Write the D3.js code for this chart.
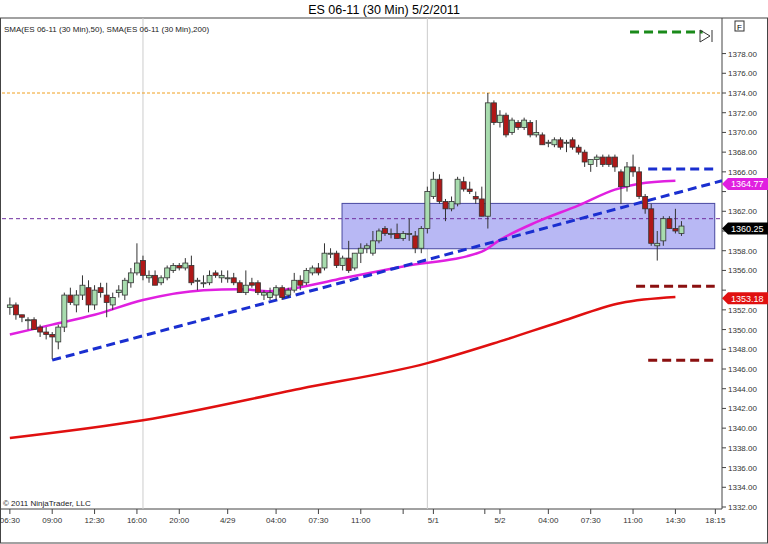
<!DOCTYPE html>
<html><head><meta charset="utf-8">
<script src="https://cdn.jsdelivr.net/npm/d3@7"></script>
<style>body{margin:0;background:#fff;font-family:Arial,"Liberation Sans",sans-serif}</style>
</head><body><svg width="768" height="544"></svg>
<script>
// [open, high, low, close] per 30 min bar
var bars = [
[1352.25,1353.25,1351.5,1352.5],[1352.5,1352.75,1351,1351.5],[1351.5,1351.5,1350.75,1351.25],[1351,1351.25,1350,1351],
[1351,1351.25,1350,1350],[1350.25,1350.5,1349.25,1349.75],[1349.75,1350.25,1349,1349.5],[1349.5,1349.75,1347,1349.25],
[1348.75,1350.5,1348,1350.25],[1350.25,1353.75,1349.75,1353.5],[1353.5,1354.25,1352.5,1352.75],[1352.5,1354,1351.75,1353.5],
[1353.5,1355.5,1353,1354.5],[1354.25,1355,1351.75,1352.5],[1352.5,1354.5,1352,1354],[1354.25,1354.75,1353.25,1353.75],
[1353.5,1354.75,1351.25,1352.75],[1352.5,1353.75,1352,1353.25],[1353.75,1354.5,1353.25,1354],[1353.5,1355.25,1353,1355],
[1354.75,1356.25,1354.25,1355.75],[1355.75,1358.75,1355.5,1356.75],[1357,1357.5,1355,1355.5],[1355.25,1356,1354.75,1355.5],
[1355.5,1356,1354.5,1354.5],[1354.75,1355.5,1354.5,1355.25],[1355.25,1356.5,1355,1356.25],[1356,1356.75,1355.75,1356.5],
[1356.5,1356.75,1356,1356.25],[1356.25,1357.25,1356,1356.75],[1356.5,1357.5,1354.5,1354.75],[1355,1355.25,1354,1355],
[1354.75,1355.5,1354.25,1354.75],[1354.75,1356,1354.5,1355.5],[1355.75,1356,1355.25,1355.5],[1355.25,1356,1354.75,1355.5],
[1355.25,1356,1354.75,1355.25],[1355.25,1355.75,1354.5,1354.75],[1354.75,1355,1353.75,1353.75],[1353.75,1356,1353.5,1354.5],
[1354.75,1355.25,1354.25,1354.5],[1354.75,1355,1353.5,1353.75],[1353.5,1354,1353,1353.75],[1353.25,1354.25,1353,1353.75],
[1353.5,1354.5,1353,1354.25],[1354.25,1354.5,1353,1353.25],[1353.5,1354.25,1353.25,1354],[1354,1355.75,1353.75,1355],
[1355,1355.5,1354,1354.5],[1354.75,1356.25,1354.5,1356],[1355.75,1356.5,1355.5,1356.25],[1356.25,1356.75,1355.5,1355.75],
[1356.25,1358.75,1356,1357.75],[1357.75,1358.25,1357.25,1357.75],[1357.75,1358,1356.25,1356.5],[1356.5,1357.5,1356,1357.25],
[1357.25,1359,1355.75,1356],[1356.25,1357.75,1356,1357.75],[1357.75,1358.75,1356.75,1358.25],[1358.25,1358.75,1357.75,1358.5],
[1357.75,1360,1357.5,1359],[1359,1360.25,1358.75,1360],[1360.25,1360.5,1359.5,1359.75],[1359.75,1360.25,1359.25,1359.75],
[1359.75,1360.75,1359.25,1359.25],[1359.25,1360,1359,1359.75],[1359.75,1361.25,1359,1359.75],[1359.5,1360,1357.75,1358.25],
[1358.25,1360.5,1357.75,1360.25],[1360.25,1364.5,1359.75,1364],[1363.5,1366,1363.25,1365.25],[1365.25,1365.75,1362.75,1363],
[1363,1363.25,1361,1362.25],[1362.25,1363.5,1362,1363],[1362.75,1365.5,1362.5,1365.25],[1365,1365.5,1364,1364.25],
[1364.25,1365,1363.75,1364],[1363.5,1364,1362.75,1363.25],[1363.25,1364.5,1361.5,1361.5],[1361.5,1374,1360.25,1373],
[1373,1373.25,1370.75,1371],[1371,1372.25,1370.5,1371.75],[1371.75,1372,1369.5,1369.75],[1370,1371.5,1369.75,1371.25],
[1371,1371.25,1370.25,1370.5],[1370.5,1371.5,1370.25,1371.25],[1371,1371.25,1369.5,1369.75],[1369.75,1371.25,1369.5,1370],
[1369.75,1370,1368.75,1368.75],[1369,1369.25,1368.5,1369],[1368.75,1369.5,1368.5,1369.25],[1369.25,1369.5,1368.25,1368.5],
[1369,1369.25,1368,1369],[1369.25,1369.5,1368.25,1368.5],[1368.5,1368.75,1367.75,1368],[1368,1368.25,1366.5,1367],
[1366.75,1367.25,1366,1367.25],[1367.25,1367.75,1366.5,1367.5],[1367.5,1367.75,1366.5,1366.75],[1367.5,1367.75,1366.5,1366.75],
[1367.5,1367.75,1366,1366.5],[1366,1366.25,1362.75,1364.5],[1364.5,1367,1364,1366.5],[1366.5,1367.75,1365.5,1366],
[1366,1366.5,1363.25,1363.5],[1363.5,1363.75,1361.75,1362.25],[1362.25,1362.75,1358.5,1358.75],[1358.5,1360,1357,1358.75],
[1359,1361.5,1358.5,1361.25],[1361.25,1361.5,1360.25,1360.25],[1360.25,1362.25,1359.75,1360],[1359.75,1361,1359.5,1360.5]
];
// moving averages read at bar indices [index, value]
var sma50 = [[0,1349.5],[7,1350.5],[14,1351.5],[22,1353],[32,1354],[38,1354.1],[43,1353.9],[48,1354.3],[55,1355.2],[65,1356.4],
  [78,1357.9],[81,1359.1],[87,1360.9],[94,1362.6],[100,1364.2],[104,1364.8],[110,1365.1]];
var sma200 = [[0,1339],[22,1340.8],[48,1344],[69,1346.6],[81,1348.8],[91,1350.8],[101,1352.7],[110,1353.3]];
var xTicks = [[0,"06:30"],[7,"09:00"],[14,"12:30"],[21,"16:00"],[28,"20:00"],[36,"4/29"],[44,"04:00"],[51,"07:30"],
  [58,"11:00"],[65,""],[70,"5/1"],[78.5,""],[81,"5/2"],[89,"04:00"],[96,"07:30"],[103,"11:00"],[110,"14:30"],[116.6,"18:15"]];
var yTicks = d3.range(1332, 1379, 2);
var gridX = [22, 69];
var zone = [54.9, 116.5, 1362.8, 1358.2];   // i0, i1, top, bottom
var trend = [[7,1346.9],[117.7,1365.1]];
var levels = [
  {i0:105.5,i1:116.5,v:1366.3,c:"#1a2fd0"},
  {i0:103.5,i1:116.5,v:1354.4,c:"#8b1010"},
  {i0:105.5,i1:116.5,v:1346.9,c:"#8b1010"},
  {i0:102.5,i1:114.5,v:1380.2,c:"#1a8a1a"}
];
var lastLabels = [[1364.77,"#e020e0"],[1360.25,"#000"],[1353.18,"#e01010"]];

var svg = d3.select("svg");
var L = 2, R = 722, T = 18, B = 509;
var x = d3.scaleLinear().domain([-1.3, 117.7]).range([L, R]);
var y = d3.scaleLinear().domain([1332, 1374]).range([507, 93]);

svg.append("text").attr("x", 384).attr("y", 14).attr("text-anchor", "middle")
  .style("font-size", "12.5px").text("ES 06-11 (30 Min)  5/2/2011");
svg.append("rect").attr("x", 0.5).attr("y", T).attr("width", 767).attr("height", 525)
  .attr("fill", "none").attr("stroke", "#444");
svg.append("line").attr("x1", R).attr("x2", R).attr("y1", T).attr("y2", B).attr("stroke", "#444");
svg.append("line").attr("x1", 0).attr("x2", R).attr("y1", B).attr("y2", B).attr("stroke", "#444");

svg.append("defs").append("clipPath").attr("id", "pc").append("rect")
  .attr("x", L).attr("y", T).attr("width", R - L).attr("height", B - T);
var g = svg.append("g").attr("clip-path", "url(#pc)");

g.selectAll(".gx").data(gridX).enter().append("line")
  .attr("x1", d => x(d)).attr("x2", d => x(d)).attr("y1", T).attr("y2", B).attr("stroke", "#ccc");

g.append("rect").attr("x", x(zone[0])).attr("width", x(zone[1]) - x(zone[0]))
  .attr("y", y(zone[2])).attr("height", y(zone[3]) - y(zone[2]))
  .attr("fill", "#b8b8f4").attr("stroke", "#4848a0");

g.append("line").attr("x1", L).attr("x2", R).attr("y1", y(1374)).attr("y2", y(1374))
  .attr("stroke", "#f0a020").attr("stroke-dasharray", "3,2");
g.append("line").attr("x1", L).attr("x2", R).attr("y1", y(1361.25)).attr("y2", y(1361.25))
  .attr("stroke", "#7030a0").attr("stroke-dasharray", "4,3");

var line = d3.line().x(d => x(d[0])).y(d => y(d[1])).curve(d3.curveMonotoneX);
g.append("path").attr("d", line(sma200)).attr("fill", "none").attr("stroke", "#e01010").attr("stroke-width", 2.5);
g.append("path").attr("d", line(sma50)).attr("fill", "none").attr("stroke", "#e020e0").attr("stroke-width", 2.5);

g.append("line").attr("x1", x(trend[0][0])).attr("y1", y(trend[0][1])).attr("x2", x(trend[1][0])).attr("y2", y(trend[1][1]))
  .attr("stroke", "#1a2fd0").attr("stroke-width", 3).attr("stroke-dasharray", "9,5");
g.selectAll(".lv").data(levels).enter().append("line")
  .attr("x1", d => x(d.i0)).attr("x2", d => x(d.i1)).attr("y1", d => y(d.v)).attr("y2", d => y(d.v))
  .attr("stroke", d => d.c).attr("stroke-width", 3).attr("stroke-dasharray", "9,5");

var c = g.selectAll(".bar").data(bars).enter().append("g");
c.append("line").attr("x1", (d, i) => x(i)).attr("x2", (d, i) => x(i))
  .attr("y1", d => y(d[1])).attr("y2", d => y(d[2])).attr("stroke", "#333");
c.append("rect").attr("x", (d, i) => x(i) - 2.5).attr("width", 5)
  .attr("y", d => y(Math.max(d[0], d[3])))
  .attr("height", d => Math.max(1, Math.abs(y(d[0]) - y(d[3]))))
  .attr("fill", d => d[3] >= d[0] ? "#a8dcae" : "#b01818").attr("stroke", "#333").attr("stroke-width", 0.8);

// marker at top right
svg.append("path").attr("d", "M700,30 L710,36 L700,42 Z M712,30 L712,42").attr("fill", "none").attr("stroke", "#333");
svg.append("rect").attr("x", 735).attr("y", 21).attr("width", 9).attr("height", 10).attr("fill", "#fff").attr("stroke", "#333");
svg.append("text").attr("x", 739.5).attr("y", 29.5).attr("text-anchor", "middle").style("font-size", "8px").text("F");

svg.append("text").attr("x", 4).attr("y", 32).style("font-size", "8px").attr("fill", "#222")
  .text("SMA(ES 06-11 (30 Min),50), SMA(ES 06-11 (30 Min),200)");
svg.append("text").attr("x", 3).attr("y", 506).style("font-size", "8px").attr("fill", "#222")
  .text("© 2011 NinjaTrader, LLC");

var ya = svg.append("g");
yTicks.forEach(function (v) {
  ya.append("line").attr("x1", R).attr("x2", R + 4).attr("y1", y(v)).attr("y2", y(v)).attr("stroke", "#444");
  var hidden = lastLabels.some(l => Math.abs(y(l[0]) - y(v)) < 9);
  if (!hidden) ya.append("text").attr("x", R + 6).attr("y", y(v) + 3).style("font-size", "8px").attr("fill", "#333").text(v.toFixed(2));
});
var xa = svg.append("g");
xTicks.forEach(function (t) {
  xa.append("line").attr("x1", x(t[0])).attr("x2", x(t[0])).attr("y1", B).attr("y2", B + 5).attr("stroke", "#444");
  xa.append("text").attr("x", x(t[0])).attr("y", B + 14).attr("text-anchor", "middle")
    .style("font-size", "8px").attr("fill", "#333").text(t[1]);
});

lastLabels.forEach(function (l) {
  var yy = y(l[0]);
  svg.append("path").attr("d", "M" + R + "," + yy + " l6,-6 h40 v12 h-40 Z").attr("fill", l[1]);
  svg.append("text").attr("x", R + 9).attr("y", yy + 3.5).style("font-size", "9px").attr("fill", "#fff").text(l[0].toFixed(2));
});
</script></body></html>
